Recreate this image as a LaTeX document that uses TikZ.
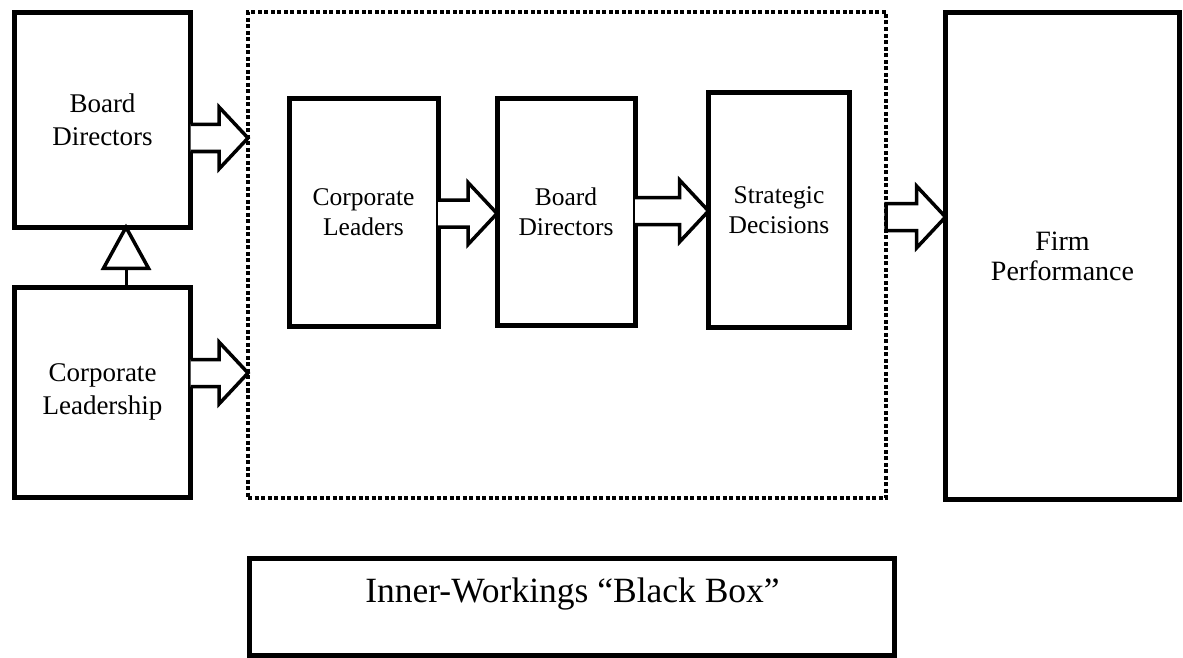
\documentclass[tikz,border=0pt]{standalone}
\usepackage{fontspec}
\setmainfont{Liberation Serif}
\usetikzlibrary{calc}
\tikzset{
  box/.style={draw, line width=5pt, inner sep=0pt, outer sep=0pt, align=center},
  outerfont/.style={font=\fontsize{27}{33}\selectfont},
  innerfont/.style={font=\fontsize{25.5}{30}\selectfont},
  blackbox/.style={draw, line width=4pt, dash pattern=on 4pt off 2.5pt, inner sep=0pt, outer sep=0pt},
  barrow/.style={draw, fill=white, line width=3.5pt, line join=miter},
}
% block arrow from #1 (start point) to x of #2, #3 = optional closing
\newcommand\blockarrow[3]{%
  \draw[barrow] let \p1=#1, \p2=#2 in
    (\x1,\y1+13.5pt) -- (\x2-29pt,\y1+13.5pt) -- (\x2-29pt,\y1+31pt) -- (\x2,\y1)
    -- (\x2-29pt,\y1-31pt) -- (\x2-29pt,\y1-13.5pt) -- (\x1,\y1-13.5pt) #3;}
\begin{document}
\begin{tikzpicture}[x=1pt,y=-1pt]
\useasboundingbox (0,0) rectangle (1183,658);
% black box frame
\node[blackbox, minimum width=638pt, minimum height=486pt] (dash) at (567,255) {};
% left boxes
\node[box, outerfont, minimum width=176pt, minimum height=214.5pt] (bd1) at (102.5,120) {Board\\Directors};
\node[box, outerfont, minimum width=176pt, minimum height=210pt] (cl1) at (102.5,392) {Corporate\\Leadership};
% inner boxes
\node[box, innerfont, minimum width=149pt, minimum height=227pt] (cl2) at (363.5,212.5) {Corporate\\Leaders};
\node[box, innerfont, minimum width=138pt, minimum height=227pt] (bd2) at (566,212) {Board\\Directors};
\node[box, innerfont, minimum width=141pt, minimum height=235.5pt] (sd) at (779,210) {Strategic\\Decisions};
% firm performance
\node[box, font=\fontsize{28}{30}\selectfont, minimum width=234pt, minimum height=487.5pt] (fp) at (1062.5,256) {Firm\\Performance};
% bottom label box
\node[box, minimum width=645pt, minimum height=96.5pt] (bb) at (572,607) {};
\node[anchor=base, font=\fontsize{35.5}{40}\selectfont, inner sep=0pt] (bbt) at ($(bb.north)+(0.5,44)$) {Inner-Workings “Black Box”};
% block arrows
\blockarrow{($(bd1.east)+(0,18)$)}{(dash.west)}{}
\blockarrow{($(cl1.east)+(0,-19)$)}{(dash.west)}{}
\blockarrow{($(cl2.east)+(0,1)$)}{(bd2.west)}{}
\blockarrow{($(bd2.east)+(0,-1)$)}{(sd.west)}{}
\blockarrow{($(dash.east)+(0,-38)$)}{(fp.west)}{-- cycle}
% upward arrow
\coordinate (us) at ($(cl1.north)+(23.5,0)$);
\coordinate (ua) at (us |- bd1.south);
\draw[line width=3pt] (us) -- ($(ua)+(0,41)$);
\draw[barrow] (ua) -- ($(ua)+(22.5,41)$) -- ($(ua)+(-22.5,41)$) -- cycle;
\end{tikzpicture}
\end{document}
